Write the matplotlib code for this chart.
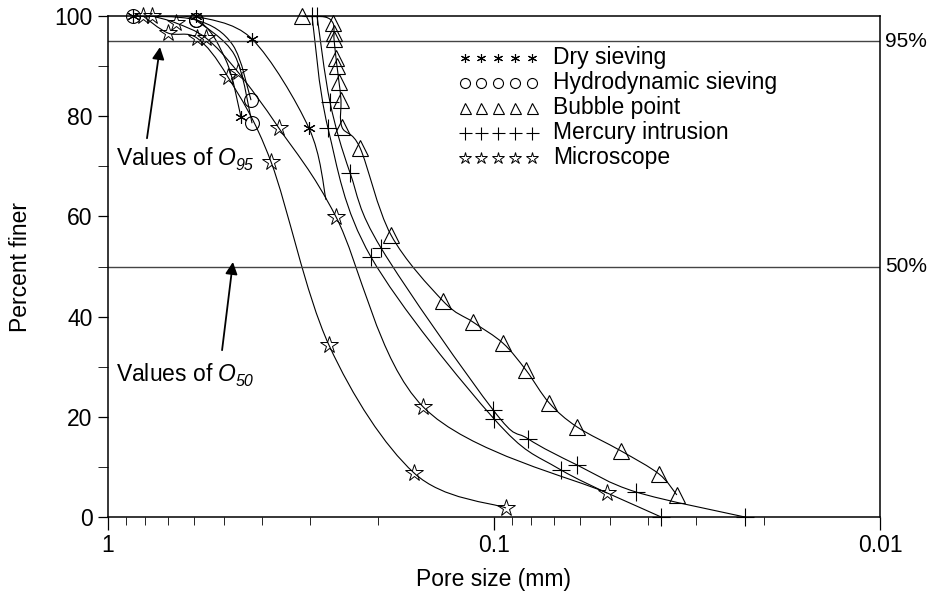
import numpy as np
import matplotlib
matplotlib.use("Agg")
import matplotlib.pyplot as plt
from matplotlib.path import Path
from matplotlib.patches import PathPatch
from matplotlib.ticker import FixedLocator, NullFormatter

plt.rcParams['font.family'] = ['Liberation Sans', 'DejaVu Sans']
plt.rcParams['mathtext.fontset'] = 'custom'
plt.rcParams['mathtext.rm'] = 'Liberation Sans'
plt.rcParams['mathtext.it'] = 'Liberation Sans:italic'

# pore size (mm) / percent finer, one pair per curve; mk = indices carrying a marker
dry1_d = [0.5916, 0.4235, 0.3015, 0.2723]
dry1_v = [100.0, 95.4, 77.6, 63.3]
dry1_mk = [0, 1, 2]
dry2_d = [0.8613, 0.5950, 0.4950, 0.4523]
dry2_v = [100.0, 99.4, 91.2, 79.8]
dry2_mk = [0, 3]

hydro1_d = [0.8613, 0.5916, 0.4750, 0.4261]
hydro1_v = [100.0, 99.2, 94.2, 83.2]
hydro1_mk = [0, 1, 3]
hydro2_d = [0.5916, 0.4700, 0.4235]
hydro2_v = [99.2, 92.2, 78.6]
hydro2_mk = [0, 2]

bubble_d = [0.3144, 0.2741, 0.2613, 0.2597, 0.2597, 0.2566, 0.2551, 0.2521,
            0.2491, 0.2476, 0.2224, 0.1849, 0.1355, 0.1133, 0.0948, 0.0826,
            0.0720, 0.0610, 0.0469, 0.0374, 0.0336]
bubble_v = [100.0, 99.8, 98.6, 96.6, 95.4, 91.6, 90.0, 86.8,
            83.2, 77.8, 73.7, 56.3, 43.1, 38.9, 34.7, 29.3,
            22.8, 18.0, 13.2, 8.6, 4.4]
bubble_mk = [0] + list(range(2, 21))

merc1_d = [0.2874, 0.2660, 0.2360, 0.1962, 0.1006, 0.0816, 0.0610, 0.0429, 0.0224]
merc1_v = [100.0, 82.8, 68.7, 53.7, 21.4, 15.6, 10.4, 5.0, 0.0]
merc2_d = [0.2961, 0.2692, 0.2083, 0.1000, 0.0671, 0.0369]
merc2_v = [100.0, 77.6, 51.9, 19.6, 9.4, 0.0]

micro1_d = [0.8114, 0.6993, 0.5881, 0.4887, 0.3782, 0.2676, 0.1612, 0.0931]
micro1_v = [100.0, 96.6, 95.6, 87.8, 70.9, 34.3, 8.8, 1.8]
micro2_d = [0.7691, 0.6666, 0.5574, 0.4605, 0.3606, 0.2566, 0.1527, 0.0510]
micro2_v = [100.0, 98.6, 95.6, 88.8, 77.6, 59.9, 22.0, 4.8]

methods = ['Dry sieving', 'Hydrodynamic sieving', 'Bubble point',
           'Mercury intrusion', 'Microscope']

x_major = [1, 0.1, 0.01]
x_labels = ['1', '0.1', '0.01']
y_major = [0, 20, 40, 60, 80, 100]
ref_levels = [95, 50]


def smooth_path(d, v):
    # Catmull-Rom curve through the points, built in log(d) space
    pts = np.column_stack([np.log10(d), v])
    p = np.vstack([pts[0], pts, pts[-1]])
    verts = [pts[0]]
    codes = [Path.MOVETO]
    for i in range(1, len(p) - 2):
        c1 = p[i] + (p[i + 1] - p[i - 1]) / 6.0
        c2 = p[i + 1] - (p[i + 2] - p[i]) / 6.0
        verts += [c1, c2, p[i + 1]]
        codes += [Path.CURVE4] * 3
    verts = np.array(verts)
    verts[:, 0] = 10 ** verts[:, 0]
    return Path(verts, codes)


# marker styles for each method
asterisk = dict(marker=(6, 2, 0), ms=9, mew=0.8)
circle = dict(marker='o', ms=10, mew=0.8)
triangle = dict(marker='^', ms=11, mew=0.8)
plus = dict(marker='+', ms=13, mew=0.8)
star = dict(marker='*', ms=13, mew=0.7)
styles = [asterisk, circle, triangle, plus, star]

curves = [
    (dry1_d, dry1_v, dry1_mk, asterisk),
    (dry2_d, dry2_v, dry2_mk, asterisk),
    (hydro1_d, hydro1_v, hydro1_mk, circle),
    (hydro2_d, hydro2_v, hydro2_mk, circle),
    (bubble_d, bubble_v, bubble_mk, triangle),
    (merc1_d, merc1_v, None, plus),
    (merc2_d, merc2_v, None, plus),
    (micro1_d, micro1_v, None, star),
    (micro2_d, micro2_v, None, star),
]

fig = plt.figure(figsize=(9.32, 5.93), dpi=100)
ax = fig.add_axes([108 / 932, 1 - 517 / 593, 772 / 932, 501 / 593])
ax.set_xscale('log')
ax.set_xlim(1, 0.01)
ax.set_ylim(0, 100)

for d, v, mk, st in curves:
    ax.add_patch(PathPatch(smooth_path(d, v), fill=False, lw=0.8, ec='k'))
    d = np.asarray(d)
    v = np.asarray(v)
    idx = np.arange(len(d)) if mk is None else np.asarray(mk)
    ax.plot(d[idx], v[idx], ls='none', mfc='none', mec='k', clip_on=False,
            zorder=3, **st)

for lvl in ref_levels:
    ax.axhline(lvl, color='#444444', lw=1.0)
    ax.text(1.007, lvl, '%d%%' % lvl, transform=ax.get_yaxis_transform(),
            ha='left', va='center', fontsize=15)

# legend: five markers per row followed by the method name
leg_x = [0.4624, 0.4838, 0.5052, 0.5272, 0.5492]
leg_y = [0.9162, 0.8663, 0.8164, 0.7665, 0.7166]
for name, st, yy in zip(methods, styles, leg_y):
    small = dict(st)
    small['ms'] = st['ms'] * 0.72
    ax.plot(leg_x, [yy] * 5, ls='none', mfc='none', mec='k',
            transform=ax.transAxes, **small)
    ax.text(0.5764, yy, name, transform=ax.transAxes, ha='left',
            va='center', fontsize=16.5)

# arrows and "Values of O_xx" notes, subscript set as its own italic text
renderer = fig.canvas.get_renderer()
notes = [('95', 70.3, (0.7925, 75.6), (0.7333, 93.8)),
         ('50', 27.2, (0.5064, 33.3), (0.4746, 50.9))]
for sub, ybase, tail, head in notes:
    ax.annotate('', xy=head, xytext=tail,
                arrowprops=dict(arrowstyle='-|>', lw=1.3, color='k',
                                mutation_scale=18, shrinkA=0, shrinkB=0))
    main = ax.text(0.011, ybase, r'Values of $\mathit{O}$',
                   transform=ax.get_yaxis_transform(), ha='left',
                   va='baseline', fontsize=16.5)
    w = main.get_window_extent(renderer).width
    ax.annotate(sub, xy=(0.011, ybase), xycoords=ax.get_yaxis_transform(),
                xytext=(w - 2, -5), textcoords='offset pixels', ha='left',
                va='baseline', fontsize=11.5, style='italic')

ax.xaxis.set_major_locator(FixedLocator(x_major))
ax.set_xticklabels(x_labels)
minor = [m * 10.0 ** e for e in (-1, -2) for m in range(2, 10)]
ax.xaxis.set_minor_locator(FixedLocator(minor))
ax.xaxis.set_minor_formatter(NullFormatter())
ax.set_yticks(y_major)
ax.set_yticks(range(10, 100, 20), minor=True)
ax.tick_params(axis='both', labelsize=16.5, direction='out', width=0.9)
ax.tick_params(axis='x', which='major', length=9, pad=3)
ax.tick_params(axis='x', which='minor', length=6)
ax.tick_params(axis='y', which='both', length=7, pad=4)
for sp in ax.spines.values():
    sp.set_linewidth(1.1)

ax.set_xlabel('Pore size (mm)', fontsize=16.5, labelpad=8)
ax.set_ylabel('Percent finer', fontsize=16.5, labelpad=16)

fig.savefig('out.png', dpi=100)
